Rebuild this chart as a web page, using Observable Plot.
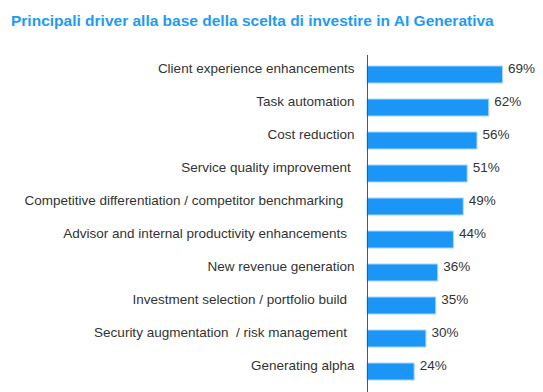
<!DOCTYPE html>
<html>
<head>
<meta charset="utf-8">
<script src="https://cdn.jsdelivr.net/npm/d3@7"></script>
<script src="https://cdn.jsdelivr.net/npm/@observablehq/plot@0.6"></script>
<style>
  html, body { margin: 0; padding: 0; background: #fff; }
  #title {
    font-family: "Liberation Sans", Arial, sans-serif;
    font-weight: bold;
    font-size: 15.5px;
    color: #1e9bf2;
    height: 28px;
    padding: 12px 0 0 11px;
    line-height: normal;
    white-space: nowrap;
  }
  #chart svg text { white-space: pre; }
</style>
</head>
<body>
<div id="title">Principali driver alla base della scelta di investire in AI Generativa</div>
<div id="chart"></div>
<script>
const categories = [
  "Client experience enhancements",
  "Task automation",
  "Cost reduction",
  "Service quality improvement ",
  "Competitive differentiation / competitor benchmarking   ",
  "Advisor and internal productivity enhancements  ",
  "New revenue generation",
  "Investment selection / portfolio build  ",
  "Security augmentation  / risk management  ",
  "Generating alpha"
];
const values = [69, 62, 56, 51, 49, 44, 36, 35, 30, 24];
const valueLabels = ["69%", "62%", "56%", "51%", "49%", "44%", "36%", "35%", "30%", "24%"];

const data = categories.map((c, i) => ({category: c, value: values[i], label: valueLabels[i]}));

const chart = Plot.plot({
  width: 543,
  height: 352,
  marginLeft: 367,
  marginRight: 0,
  marginTop: 15,
  marginBottom: 0,
  style: {fontFamily: "'Liberation Sans', Arial, sans-serif", background: "transparent"},
  x: {domain: [0, 100], range: [367, 563.4], axis: null},
  y: {domain: categories, range: [5.7, 360], padding: 0.5, axis: null},
  marks: [
    Plot.barX(data, {y: "category", x: "value", fill: "#1b96f7", stroke: "#a8d6fb", strokeWidth: 1}),
    Plot.ruleX([0], {stroke: "#555", strokeWidth: 1}),
    Plot.text(data, {y: "category", x: "value", text: "label", textAnchor: "start", dx: 5, dy: -6, fontSize: 13.5, fill: "#333"}),
    Plot.text(data, {y: "category", x: () => 0, text: "category", textAnchor: "end", dx: -13, dy: -6, fontSize: 13.5, fill: "#333"})
  ]
});
document.getElementById("chart").appendChild(chart);
</script>
</body>
</html>
